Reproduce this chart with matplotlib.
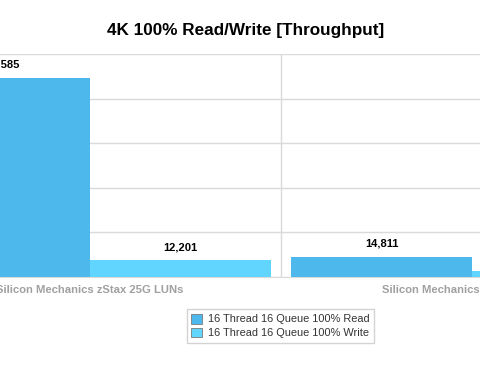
import numpy as np
import matplotlib.pyplot as plt

plt.rcParams['font.family'] = ['Liberation Sans', 'DejaVu Sans']

# data
categories = ['Silicon Mechanics zStax 25G LUNs', 'Silicon Mechanics zStax 25G NFS']
series_names = ['16 Thread 16 Queue 100% Read', '16 Thread 16 Queue 100% Write']
read_vals = [146585, 14811]
write_vals = [12201, 4632]

read_color = '#4db8ec'
write_color = '#62d5fe'
grid_color = '#dadada'

fig = plt.figure(figsize=(4.8, 3.74), dpi=100)
ax = fig.add_axes([0.0, 0.2594, 1.0, 0.5963])

x = np.arange(len(categories))
w = 0.474
b1 = ax.bar(x - w / 2, read_vals, w, color=read_color, label=series_names[0], zorder=3)
b2 = ax.bar(x + w / 2, write_vals, w, color=write_color, label=series_names[1], zorder=3)

for bars, vals in [(b1, read_vals), (b2, write_vals)]:
    for bar, v in zip(bars, vals):
        ax.annotate(f'{v:,}', (bar.get_x() + bar.get_width() / 2, v),
                    xytext=(0, 6), textcoords='offset points',
                    ha='center', va='bottom', fontsize=8, fontweight='bold',
                    color='black', annotation_clip=False)

ax.set_xlim(-0.2356, 1.021)
ax.set_ylim(0, 164000)
ax.set_yticks(np.arange(0, 164001, 32800))
ax.yaxis.grid(True, color=grid_color, linewidth=1, zorder=0)
ax.axvline(0.5, color=grid_color, linewidth=1, zorder=0)
ax.tick_params(left=False, bottom=False, labelleft=False)
ax.set_xticks(x)
ax.set_xticklabels(categories, fontsize=8.1, fontweight='bold', color='#a0a0a0')
ax.tick_params(axis='x', pad=2)
for s in ['top', 'left', 'right']:
    ax.spines[s].set_visible(False)
ax.spines['bottom'].set_color(grid_color)

fig.text(246 / 480, 1 - 30 / 374, '4K 100% Read/Write [Throughput]',
         ha='center', va='center', fontsize=12.3, fontweight='bold')

leg = fig.legend(handles=[b1, b2], loc='center', bbox_to_anchor=(280.5 / 480, 1 - 326 / 374),
                 fontsize=7.9, frameon=True, fancybox=False, edgecolor='#c8c8c8',
                 handlelength=1.0, handleheight=1.0, handletextpad=0.5,
                 borderpad=0.4, labelspacing=0.3)
for t in leg.get_texts():
    t.set_color('#333333')
for p in leg.get_patches():
    p.set_edgecolor('#7a7a7a')
    p.set_linewidth(0.6)

fig.savefig('out.png', dpi=100)
